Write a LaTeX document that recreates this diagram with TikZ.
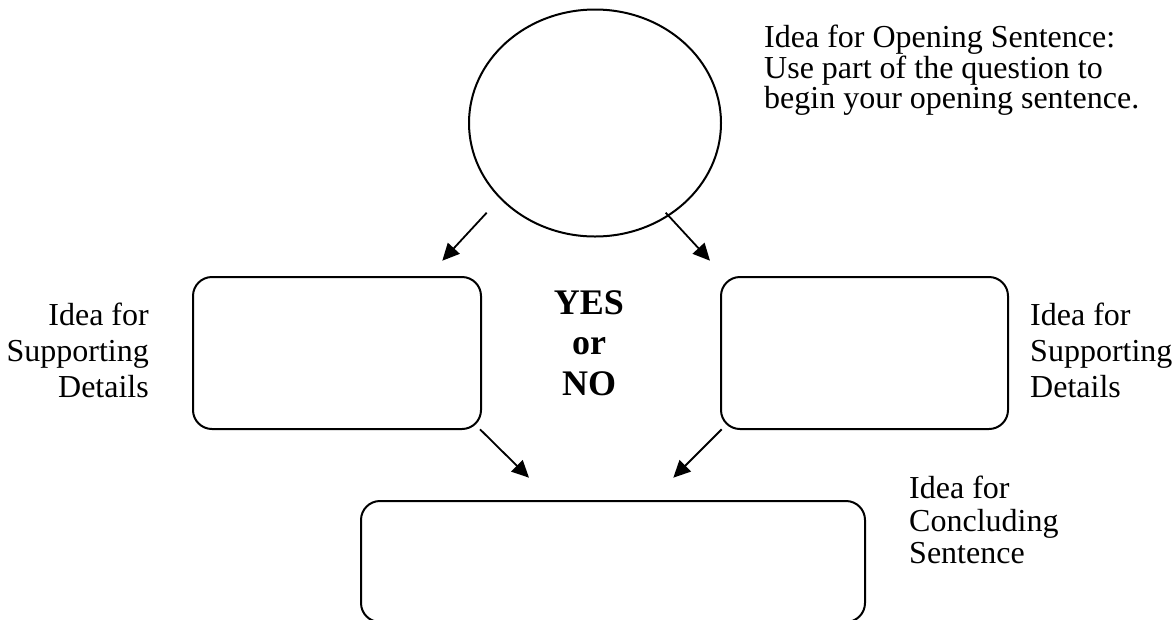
\documentclass[tikz,border=0pt]{standalone}
\usepackage{fontspec}
\setmainfont{Liberation Serif}
\usetikzlibrary{shapes.geometric,arrows.meta}
\begin{document}
\begin{tikzpicture}[x=1pt,y=-1pt,
  outline/.style={draw=black,line width=2pt},
  ovalnode/.style={outline,ellipse,inner sep=0pt,minimum width=252pt,minimum height=227pt},
  roundbox/.style={outline,rectangle,rounded corners=19pt,inner sep=0pt},
  arr/.style={line width=1.8pt,-{Triangle[length=17pt,width=16pt]}},
  lbl/.style={inner sep=0pt,font=\fontsize{32}{36}\selectfont},
  yesno/.style={inner sep=0pt,align=center,font=\fontsize{36}{40.5}\selectfont\bfseries}]
\useasboundingbox (0,0) rectangle (1174,619);
\clip (0,0) rectangle (1174,619);
% shapes
\node[ovalnode] (open) at (595,123) {};
\node[roundbox,minimum width=288pt,minimum height=152pt] (left) at (337,353) {};
\node[roundbox,minimum width=287pt,minimum height=152pt] (right) at (864.5,353) {};
\node[roundbox,minimum width=504pt,minimum height=121pt] (concl) at (613,561.5) {};
% texts
\node[lbl,anchor=north west,align=left,font=\fontsize{32}{28.5}\selectfont] (opentxt) at (764,25)
  {Idea for Opening Sentence:\\Use part of the question to\\begin your opening sentence.};
\node[lbl,anchor=north east,align=right] (lefttxt) at (149,303) {Idea for\\Supporting\\Details};
\node[lbl,anchor=north west,align=left] (righttxt) at (1030,303) {Idea for\\Supporting\\Details};
\node[lbl,anchor=north west,align=left,font=\fontsize{32}{32.5}\selectfont] (concltxt) at (909,476) {Idea for\\Concluding\\Sentence};
\node[yesno,anchor=north] (yn) at (589,290) {YES\\or\\NO};
% arrow end points
\coordinate (a1s) at (486.7,212.7);
\coordinate (a1e) at (442.3,260.7);
\coordinate (a2s) at (665.7,212.7);
\coordinate (a2e) at (710,260.7);
\coordinate (a3s) at (480,429.3);
\coordinate (a3e) at (529,477.7);
\coordinate (a4s) at (721.7,429.3);
\coordinate (a4e) at (673.3,477.7);
\draw[arr] (a1s) -- (a1e);
\draw[arr] (a2s) -- (a2e);
\draw[arr] (a3s) -- (a3e);
\draw[arr] (a4s) -- (a4e);
\end{tikzpicture}
\end{document}
